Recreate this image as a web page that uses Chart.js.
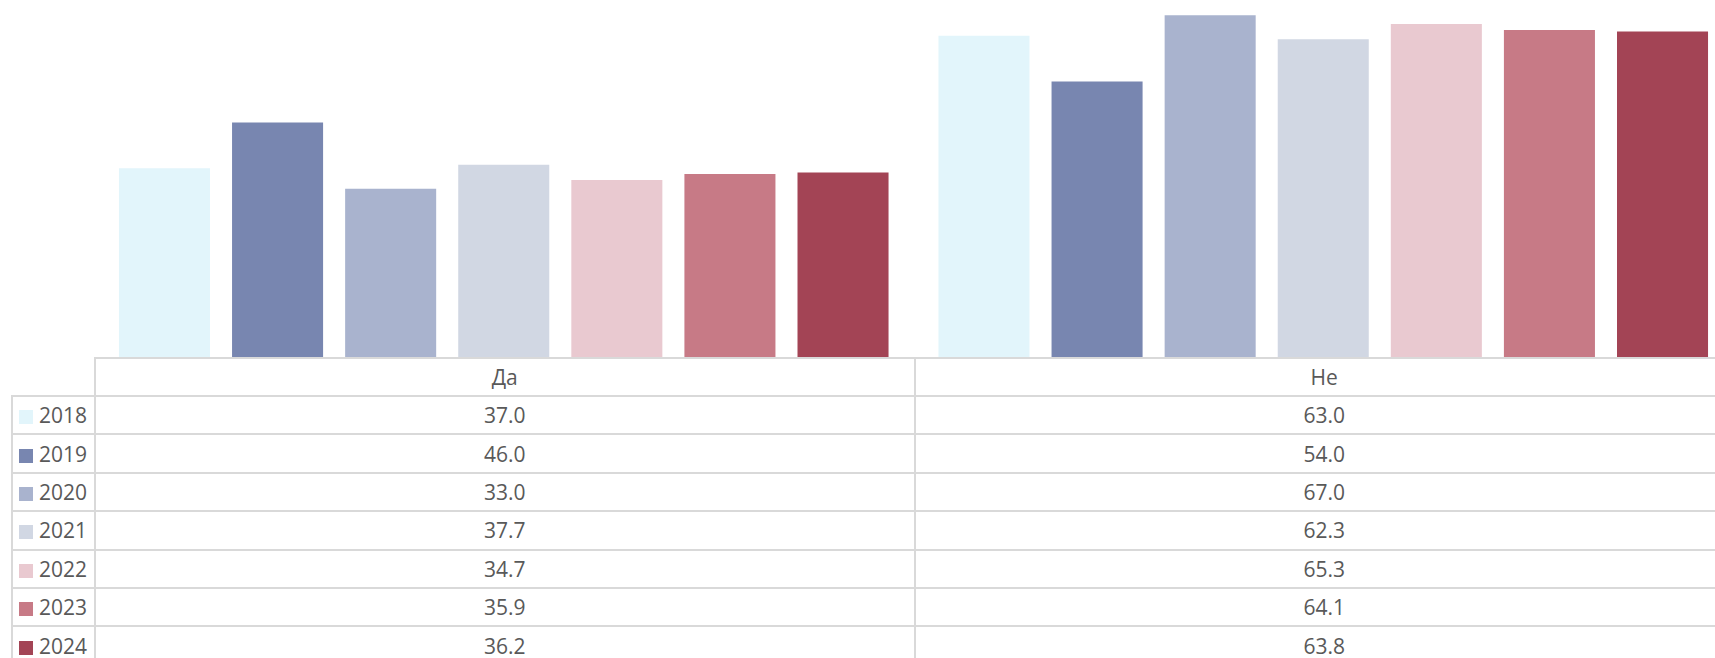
<!DOCTYPE html>
<html>
<head>
<meta charset="utf-8">
<script src="https://cdn.jsdelivr.net/npm/chart.js@4.4.1/dist/chart.umd.min.js"></script>
<style>
  html, body { margin: 0; padding: 0; background: #fff; }
  body { width: 1715px; height: 658px; overflow: hidden; position: relative; font-family: "Open Sans", sans-serif; }
  #wrap { position: absolute; left: 0; top: 0; width: 1733px; height: 658px; }
  #chart { position: absolute; left: 0; top: 0; }
  #dataTable { position: absolute; border-collapse: collapse; table-layout: fixed; font-size: 21px; color: #595959; }
  #dataTable td { border: 2px solid #d9d9d9; text-align: center; padding: 0; white-space: nowrap; }
  #dataTable td.corner { border-top: none; border-left: none; }
  #dataTable td.leg { text-align: left; padding-left: 6px; }
  #dataTable .sw { display: inline-block; width: 14px; height: 14px; margin-right: 6px; vertical-align: -1px; }
</style>
</head>
<body>
<div id="wrap">
  <canvas id="chart" width="1733" height="357"></canvas>
  <table id="dataTable"></table>
</div>
<script>
const categories = ["Да", "Не"];
const years = ["2018", "2019", "2020", "2021", "2022", "2023", "2024"];
const values2018 = [37.0, 63.0];
const values2019 = [46.0, 54.0];
const values2020 = [33.0, 67.0];
const values2021 = [37.7, 62.3];
const values2022 = [34.7, 65.3];
const values2023 = [35.9, 64.1];
const values2024 = [36.2, 63.8];
const colors = ["#E2F5FB", "#7886B0", "#A9B3CE", "#D1D7E3", "#E9C9D0", "#C77A86", "#A34455"];

const series = [values2018, values2019, values2020, values2021, values2022, values2023, values2024];

const chart = new Chart(document.getElementById("chart"), {
  type: "bar",
  data: {
    labels: categories,
    datasets: years.map((y, i) => ({
      label: y,
      data: series[i],
      backgroundColor: colors[i],
      borderWidth: 0,
      categoryPercentage: 0.966,
      barPercentage: 0.805
    }))
  },
  options: {
    responsive: false,
    animation: false,
    layout: { padding: { left: 94, right: 0, top: 0, bottom: 0 } },
    plugins: { legend: { display: false }, tooltip: { enabled: false } },
    scales: {
      x: { display: false },
      y: { display: false, min: 0, max: 70 }
    }
  }
});

// data table under the plot, columns taken from the x scale
(function buildTable() {
  const area = chart.chartArea;
  const catW = (area.right - area.left) / categories.length;
  const tableLeft = 11;
  const table = document.getElementById("dataTable");
  table.style.left = tableLeft + "px";
  table.style.top = area.bottom + "px";

  let html = "<colgroup><col style='width:" + (area.left - tableLeft) + "px'>";
  categories.forEach(() => { html += "<col style='width:" + catW + "px'>"; });
  html += "</colgroup>";

  html += "<tr style='height:38px'><td class='corner'></td>";
  categories.forEach(c => { html += "<td>" + c + "</td>"; });
  html += "</tr>";

  years.forEach((y, i) => {
    html += "<tr style='height:38.4px'><td class='leg'><span class='sw' style='background:" + colors[i] + "'></span>" + y + "</td>";
    series[i].forEach(v => { html += "<td>" + v.toFixed(1) + "</td>"; });
    html += "</tr>";
  });
  table.innerHTML = html;
  table.style.width = (area.left - tableLeft + catW * categories.length) + "px";
})();
</script>
</body>
</html>
